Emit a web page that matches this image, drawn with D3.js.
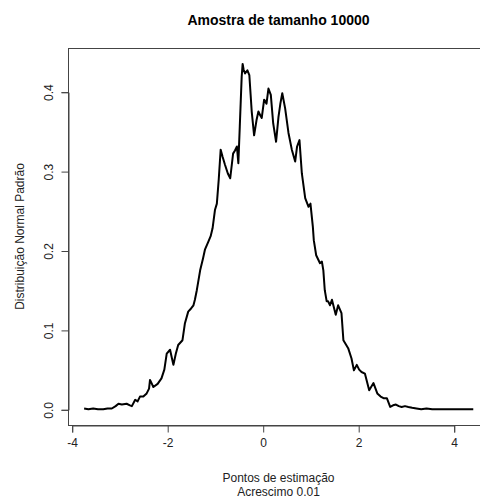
<!DOCTYPE html>
<html><head><meta charset="utf-8">
<script src="https://cdn.jsdelivr.net/npm/d3@7"></script>
<style>body{margin:0;background:#fff}svg{display:block}text{font-family:"Liberation Sans",Arial,sans-serif}</style>
</head><body>
<script>
const title = "Amostra de tamanho 10000";
const xLabel1 = "Pontos de estimação";
const xLabel2 = "Acrescimo 0.01";
const yLabel = "Distribuição Normal Padrão";
const xTicks = [-4, -2, 0, 2, 4];
const yTicks = [0.0, 0.1, 0.2, 0.3, 0.4];
const pts = [-3.74,-3.65,-3.55,-3.45,-3.34,-3.25,-3.16,-3.08,-3.02,-2.95,-2.85,-2.78,-2.74,-2.67,-2.62,-2.57,-2.5,-2.43,-2.38,-2.36,-2.32,-2.29,-2.2,-2.12,-2.06,-2.01,-1.94,-1.9,-1.87,-1.82,-1.77,-1.68,-1.63,-1.56,-1.5,-1.45,-1.42,-1.38,-1.31,-1.25,-1.21,-1.14,-1.09,-1.05,-1.0,-0.96,-0.92,-0.88,-0.84,-0.79,-0.73,-0.68,-0.62,-0.58,-0.54,-0.51,-0.48,-0.44,-0.42,-0.4,-0.37,-0.32,-0.28,-0.23,-0.18,-0.13,-0.09,-0.05,-0.02,0.03,0.08,0.12,0.17,0.22,0.28,0.33,0.37,0.41,0.47,0.54,0.61,0.68,0.72,0.77,0.82,0.89,0.96,1.0,1.05,1.07,1.12,1.2,1.24,1.27,1.3,1.34,1.37,1.41,1.45,1.53,1.58,1.65,1.69,1.74,1.79,1.86,1.91,1.97,2.02,2.07,2.14,2.23,2.32,2.4,2.47,2.53,2.6,2.67,2.73,2.79,2.85,2.91,2.98,3.05,3.13,3.22,3.32,3.43,3.55,3.64,3.8,3.99,4.2,4.41];
const dens = [0.001,0.0,0.001,0.0,0.0,0.001,0.001,0.004,0.007,0.006,0.007,0.005,0.004,0.012,0.01,0.016,0.016,0.02,0.026,0.037,0.032,0.028,0.032,0.039,0.05,0.07,0.075,0.064,0.056,0.07,0.081,0.087,0.108,0.123,0.127,0.131,0.138,0.15,0.175,0.19,0.201,0.211,0.218,0.228,0.251,0.259,0.29,0.327,0.318,0.308,0.297,0.291,0.322,0.326,0.331,0.31,0.356,0.419,0.435,0.428,0.423,0.427,0.421,0.375,0.345,0.364,0.375,0.37,0.367,0.39,0.385,0.404,0.396,0.36,0.337,0.368,0.385,0.398,0.379,0.348,0.327,0.312,0.331,0.339,0.297,0.266,0.255,0.259,0.23,0.213,0.194,0.184,0.186,0.175,0.15,0.136,0.136,0.131,0.138,0.119,0.131,0.121,0.087,0.082,0.077,0.064,0.049,0.056,0.05,0.047,0.045,0.024,0.033,0.02,0.016,0.014,0.014,0.003,0.005,0.006,0.004,0.003,0.004,0.003,0.002,0.001,0.0,0.001,0.0,0.0,0.0,0.0,0.0,0.0];

const W = 480, H = 501;
const svg = d3.select("body").append("svg").attr("width", W).attr("height", H);
const x = d3.scaleLinear().domain([-4, 4]).range([71.7, 453.7]);
const y = d3.scaleLinear().domain([0, 0.4]).range([409.3, 91.7]);
const box = {l: 68, t: 48, r: 489, b: 425};

// box
svg.append("rect").attr("x", box.l + 0.5).attr("y", box.t + 0.5)
  .attr("width", box.r - box.l).attr("height", box.b - box.t)
  .attr("fill", "none").attr("stroke", "#444").attr("stroke-width", 1);

// x axis
const xa = svg.append("g").attr("transform", `translate(0.5,${box.b + 0.5})`)
  .call(d3.axisBottom(x).tickValues(xTicks).tickSize(7).tickPadding(6).tickFormat(d3.format("d")));
xa.select(".domain").attr("stroke", "#444");
xa.selectAll(".tick line").attr("stroke", "#444");
xa.selectAll("text").attr("font-size", 12).attr("fill", "#222").attr("font-family", "Liberation Sans, Arial, sans-serif")
  .text(d => d < 0 ? "-" + Math.abs(d) : d);

// y axis
const ya = svg.append("g").attr("transform", `translate(${box.l + 0.5},0.5)`)
  .call(d3.axisLeft(y).tickValues(yTicks).tickSize(7).tickPadding(0).tickFormat(d3.format(".1f")));
ya.select(".domain").attr("stroke", "#444");
ya.selectAll(".tick line").attr("stroke", "#444");
ya.selectAll("text").attr("font-size", 12).attr("fill", "#222").attr("font-family", "Liberation Sans, Arial, sans-serif")
  .attr("x", 0).attr("dy", 0).attr("text-anchor", "middle")
  .attr("transform", "translate(-16,0) rotate(-90)");

// line
const data = pts.map((p, i) => [p, dens[i]]);
svg.append("path").datum(data)
  .attr("d", d3.line().x(d => x(d[0])).y(d => y(d[1])))
  .attr("fill", "none").attr("stroke", "#000").attr("stroke-width", 2).attr("stroke-linejoin", "round");

// titles
svg.append("text").attr("x", 278.5).attr("y", 25).attr("text-anchor", "middle")
  .attr("font-size", 14).attr("font-weight", "bold").attr("fill", "#000").text(title);
svg.append("text").attr("x", 278.5).attr("y", 482).attr("text-anchor", "middle")
  .attr("font-size", 12).attr("fill", "#222").text(xLabel1);
svg.append("text").attr("x", 278.5).attr("y", 496).attr("text-anchor", "middle")
  .attr("font-size", 12).attr("fill", "#222").text(xLabel2);
svg.append("text").attr("transform", "translate(24,236.5) rotate(-90)").attr("text-anchor", "middle")
  .attr("font-size", 12).attr("fill", "#222").text(yLabel);
</script>
</body></html>
